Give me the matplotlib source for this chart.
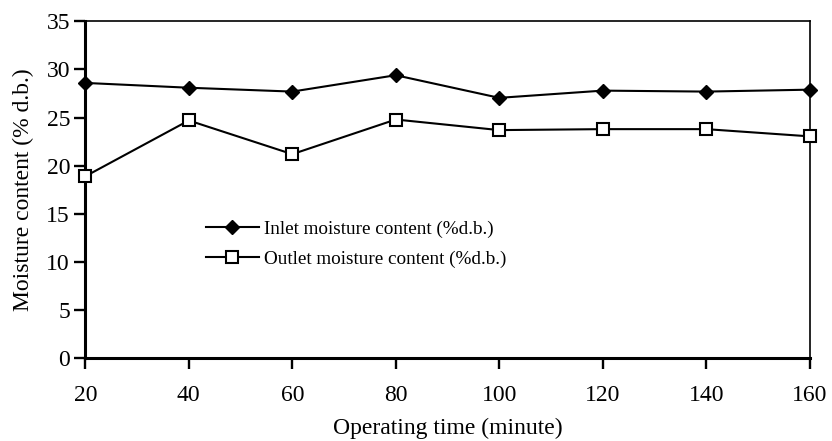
import matplotlib
matplotlib.use("Agg")
import matplotlib.pyplot as plt

# tempo de operação (min) e umidade (% b.s.)
tempo = [20, 40, 60, 80, 100, 120, 140, 160]
entrada = [28.6, 28.1, 27.7, 29.4, 27.05, 27.8, 27.7, 27.9]
saida = [18.9, 24.7, 21.2, 24.8, 23.7, 23.8, 23.8, 23.05]

plt.rcParams['font.family'] = ['Liberation Serif', 'DejaVu Serif']

fig = plt.figure(figsize=(8.32, 4.41), dpi=100)
ax = fig.add_axes([85.3 / 832, 1 - 358.3 / 441, (809.7 - 85.3) / 832, (358.3 - 21.3) / 441])

ax.plot(tempo, entrada, color='black', lw=1.5, marker='D', ms=7.5,
        mfc='black', mec='black', label='Inlet moisture content (%d.b.)', clip_on=False, zorder=3)
ax.plot(tempo, saida, color='black', lw=1.5, marker='s', ms=8, mfc='white',
        mec='black', mew=1.5, label='Outlet moisture content (%d.b.)', clip_on=False, zorder=3)

ax.set_xlim(20, 160)
ax.set_ylim(0, 35)
ax.set_xticks(tempo)
ax.set_yticks(range(0, 36, 5))
ax.tick_params(direction='out', length=8, width=1.7, labelsize=17)
ax.tick_params(axis='x', pad=11)
ax.tick_params(axis='y', pad=3)

for lado in ['left', 'bottom']:
    ax.spines[lado].set_linewidth(2.2)
for lado in ['top', 'right']:
    ax.spines[lado].set_linewidth(1.2)

ax.set_xlabel('Operating time (minute)', fontsize=17, labelpad=9)
ax.set_ylabel('Moisture content (% d.b.)', fontsize=17, labelpad=9)

ax.legend(loc='upper left', bbox_to_anchor=(0.143, 0.459), frameon=False,
          fontsize=13.75, handlelength=2.75, handletextpad=0.3, labelspacing=0.62)

fig.savefig('out.png', dpi=100)
